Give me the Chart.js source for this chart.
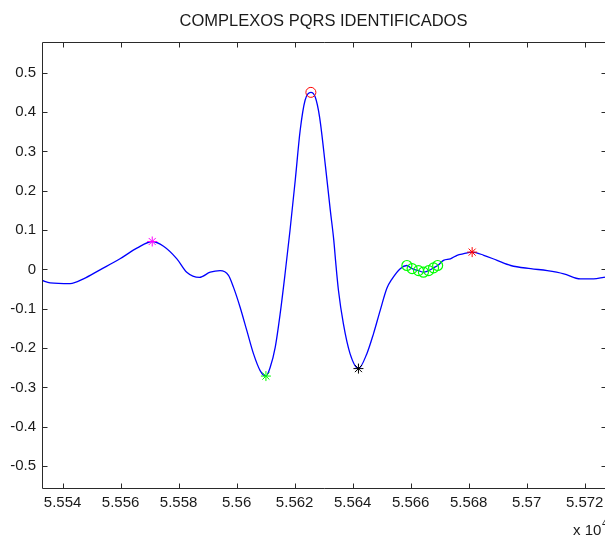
<!DOCTYPE html>
<html>
<head>
<meta charset="utf-8">
<script src="https://cdn.jsdelivr.net/npm/chart.js@4/dist/chart.umd.min.js"></script>
<style>
  html, body { margin: 0; padding: 0; background: #ffffff; }
  #wrap { position: relative; width: 605px; height: 538px; }
</style>
</head>
<body>
<div id="wrap"><canvas id="c" width="605" height="538"></canvas></div>
<script>
// ---- data (x in units of 10^4 samples) ----
const curveX = [5.55329, 5.55357, 5.55426, 5.55472, 5.55529, 5.55598, 5.55656, 5.55709, 5.55748, 5.55794,
  5.55828, 5.55872, 5.55909, 5.55943, 5.55972, 5.55989, 5.56012, 5.56035, 5.56058, 5.56081,
  5.56101, 5.56116, 5.56133, 5.56150, 5.56167, 5.56184, 5.56202, 5.56219, 5.56236, 5.56256,
  5.56271, 5.56286, 5.56306, 5.56323, 5.56335, 5.56341, 5.56351, 5.56368, 5.56391, 5.56420,
  5.56449, 5.56472, 5.56495, 5.56518, 5.56536, 5.56564, 5.56587, 5.56605, 5.56627, 5.56644,
  5.56662, 5.56679, 5.56693, 5.56713, 5.56737, 5.56760, 5.56783, 5.56812, 5.56852, 5.56898,
  5.56945, 5.57014, 5.57071, 5.57128, 5.57185, 5.57231, 5.57265, 5.5728];
const curveY = [-0.028, -0.034, -0.036, -0.024, -0.001, 0.027, 0.054, 0.071, 0.059, 0.027,
  -0.007, -0.020, -0.007, -0.003, -0.015, -0.045, -0.096, -0.155, -0.214, -0.257,
  -0.271, -0.248, -0.198, -0.113, -0.011, 0.099, 0.226, 0.353, 0.430, 0.450,
  0.438, 0.387, 0.264, 0.150, 0.074, 0.023, -0.053, -0.138, -0.214, -0.252,
  -0.214, -0.163, -0.104, -0.048, -0.024, 0.002, 0.010, 0.002, -0.003, -0.007,
  -0.003, 0.004, 0.010, 0.023, 0.027, 0.036, 0.040, 0.044, 0.036, 0.023,
  0.010, 0.002, -0.003, -0.011, -0.024, -0.024, -0.020, -0.018];

// identified points
const pX = [5.55709], pY = [0.071];           // magenta *
const qX = [5.56101], qY = [-0.271];          // green *
const rX = [5.56256], rY = [0.450];           // red o
const sX = [5.56420], sY = [-0.252];          // black *
const tX = [5.56812], tY = [0.044];           // red *
const offX = [5.56587, 5.56605, 5.56627, 5.56644, 5.56662, 5.56679, 5.56693];  // green o
const offY = [0.010, 0.002, -0.003, -0.007, -0.003, 0.004, 0.010];

const xTickVals = [5.554, 5.556, 5.558, 5.560, 5.562, 5.564, 5.566, 5.568, 5.570, 5.572];
const xTickLabels = ['5.554', '5.556', '5.558', '5.56', '5.562', '5.564', '5.566', '5.568', '5.57', '5.572'];
const yTickVals = [-0.5, -0.4, -0.3, -0.2, -0.1, 0, 0.1, 0.2, 0.3, 0.4, 0.5];
const yTickLabels = ['-0.5', '-0.4', '-0.3', '-0.2', '-0.1', '0', '0.1', '0.2', '0.3', '0.4', '0.5'];

const titleText = 'COMPLEXOS PQRS IDENTIFICADOS';

const zip = (xs, ys) => xs.map((v, i) => ({ x: v, y: ys[i] }));

const FONT = '"Liberation Sans", Arial, sans-serif';
const TXT = '#1a1a1a';

const framePlugin = {
  id: 'frame',
  afterDraw(chart) {
    const { ctx, chartArea: a, scales: { x, y } } = chart;
    ctx.save();
    ctx.strokeStyle = '#2a2a2a';
    ctx.lineWidth = 1;
    const L = Math.round(a.left) + 0.5, T = Math.round(a.top) + 0.5, B = Math.round(a.bottom) - 0.5;
    const R = Math.round(a.right) + 1.5;
    ctx.beginPath();
    ctx.moveTo(R, T); ctx.lineTo(L, T); ctx.lineTo(L, B); ctx.lineTo(R, B);
    x.ticks.forEach(t => {
      const px = Math.round(x.getPixelForValue(t.value)) + 0.5;
      ctx.moveTo(px, T); ctx.lineTo(px, T + 5);
      ctx.moveTo(px, B); ctx.lineTo(px, B - 5);
    });
    y.ticks.forEach(t => {
      const py = Math.round(y.getPixelForValue(t.value)) + 0.5;
      ctx.moveTo(L, py); ctx.lineTo(L + 5, py);
      ctx.moveTo(R, py); ctx.lineTo(R - 5, py);
    });
    ctx.stroke();
    ctx.fillStyle = TXT;
    // title centred over the plot area
    ctx.font = '16.5px ' + FONT;
    ctx.textAlign = 'center';
    ctx.textBaseline = 'middle';
    ctx.fillText(titleText, (a.left + a.right) / 2, 21);
    // exponent label
    ctx.textAlign = 'left';
    ctx.textBaseline = 'alphabetic';
    ctx.font = '15px ' + FONT;
    ctx.fillText('x 10', 573, 535);
    ctx.font = '10px ' + FONT;
    ctx.fillText('4', 602, 527);
    ctx.restore();
  }
};

new Chart(document.getElementById('c'), {
  type: 'scatter',
  data: {
    datasets: [
      { label: 'P', data: zip(pX, pY), pointStyle: 'star', radius: 5, borderColor: '#ff00ff', borderWidth: 1, order: 1 },
      { label: 'Q', data: zip(qX, qY), pointStyle: 'star', radius: 5, borderColor: '#00ff00', borderWidth: 1, order: 1 },
      { label: 'R', data: zip(rX, rY), pointStyle: 'circle', radius: 5, borderColor: '#ff0000', backgroundColor: 'rgba(0,0,0,0)', borderWidth: 1, order: 1 },
      { label: 'S', data: zip(sX, sY), pointStyle: 'star', radius: 5, borderColor: '#000000', borderWidth: 1, order: 1 },
      { label: 'T', data: zip(tX, tY), pointStyle: 'star', radius: 5, borderColor: '#ff0000', borderWidth: 1, order: 1 },
      { label: 'offset', data: zip(offX, offY), pointStyle: 'circle', radius: 5, borderColor: '#00ff00', backgroundColor: 'rgba(0,0,0,0)', borderWidth: 1.2, order: 1 },
      { label: 'ECG', data: zip(curveX, curveY), showLine: true, borderColor: '#0000ff', borderWidth: 1.3,
        pointRadius: 0, cubicInterpolationMode: 'monotone', fill: false, order: 2 }
    ]
  },
  options: {
    responsive: false,
    animation: false,
    devicePixelRatio: 1,
    layout: { autoPadding: false, padding: { left: 0, right: 0, top: 42, bottom: 0 } },
    plugins: {
      legend: { display: false },
      tooltip: { enabled: false },
      title: { display: false }
    },
    scales: {
      x: {
        type: 'linear', min: 5.55329, max: 5.5727,
        grid: { display: false, drawTicks: false },
        border: { display: false },
        afterBuildTicks: s => { s.ticks = xTickVals.map(v => ({ value: v })); },
        afterFit: s => { s.height = 49; s.paddingLeft = 0; s.paddingRight = 0; },
        ticks: {
          autoSkip: false, maxRotation: 0, padding: 5, color: TXT,
          font: { family: FONT, size: 15 },
          callback: (v, i) => xTickLabels[i]
        }
      },
      y: {
        type: 'linear', min: -0.558, max: 0.578,
        grid: { display: false, drawTicks: false },
        border: { display: false },
        afterBuildTicks: s => { s.ticks = yTickVals.map(v => ({ value: v })); },
        afterFit: s => { s.width = 42; s.paddingTop = 0; s.paddingBottom = 0; },
        ticks: {
          autoSkip: false, padding: 6, color: TXT,
          font: { family: FONT, size: 15 },
          callback: (v, i) => yTickLabels[i]
        }
      }
    }
  },
  plugins: [framePlugin]
});
</script>
</body>
</html>
